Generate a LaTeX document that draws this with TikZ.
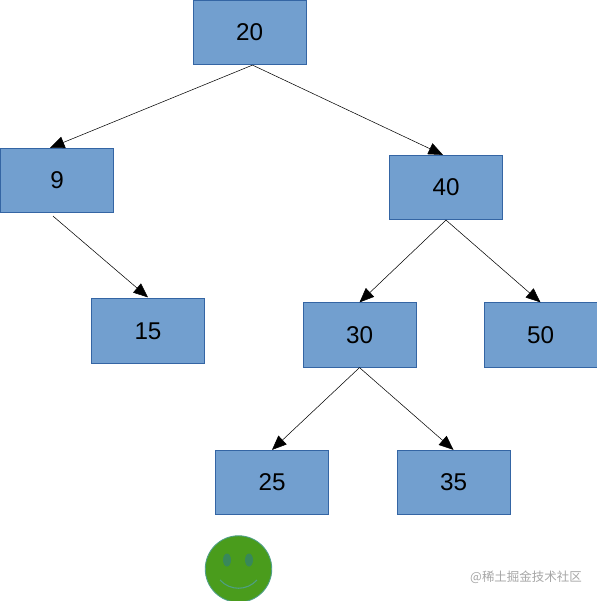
\documentclass[tikz,border=0pt]{standalone}
\usepackage{fontspec}
\setmainfont{Liberation Sans}
\newfontfamily\cjkfont{Noto Sans CJK SC}
\usetikzlibrary{arrows.meta}
\definecolor{boxfill}{HTML}{729FCF}
\definecolor{boxline}{HTML}{3465A4}
\definecolor{smileyfill}{HTML}{4A9C1C}
\definecolor{smileyline}{HTML}{4F9F86}
\definecolor{smileyeye}{HTML}{38885A}
\tikzset{
    keybox/.style={draw=boxline, fill=boxfill, line width=0.4pt, minimum width=2.26cm, minimum height=1.29cm, inner sep=0pt, font=\fontsize{13.8}{16}\selectfont, text=black},
    link/.style={->, line width=0.3pt}
}

\begin{document}
\begin{tikzpicture}[x=0.02cm, y=-0.02cm, >={Triangle[length=0.29cm, width=0.24cm]}]
    \useasboundingbox (0,0) rectangle (597,601);

    % Keys
    \node[keybox] (n20) at (249.5,32.5) {20};
    \node[keybox] (n9) at (57,180.5) {9};
    \node[keybox] (n40) at (446,187.5) {40};
    \node[keybox] (n15) at (148,331) {15};
    \node[keybox] (n30) at (359.5,335) {30};
    \node[keybox] (n50) at (540.5,335) {50};
    \node[keybox] (n25) at (272,482.5) {25};
    \node[keybox] (n35) at (453.5,482.5) {35};

    % Links
    \draw[link] ([xshift=0.06cm]n20.south) -- ([xshift=-0.14cm]n9.north);
    \draw[link] ([xshift=0.06cm]n20.south) -- ([xshift=-0.06cm]n40.north);
    \draw[link] ([xshift=-0.08cm, yshift=-0.06cm]n9.south) -- ([yshift=0.02cm]n15.north);
    \draw[link] (n40.south) -- (n30.north);
    \draw[link] (n40.south) -- (n50.north);
    \draw[link] (n30.south) -- (n25.north);
    \draw[link] (n30.south) -- (n35.north);

    % Smiley
    \node[circle, draw=smileyline, fill=smileyfill, line width=0.5pt, minimum size=1.33cm, inner sep=0pt] (smiley) at (238.5,569) {};
    \fill[smileyeye] (227,560) ellipse (4 and 6.5);
    \fill[smileyeye] (249,560) ellipse (4 and 6.5);
    \draw[smileyline, line width=0.6pt] (220,580) .. controls (230,591) and (247,591) .. (257,580);

    % Watermark
    \node[text=black!35, font=\fontsize{7.1}{9}\cjkfont, inner sep=0pt] (mark) at (526,577) {@稀土掘金技术社区};
\end{tikzpicture}
\end{document}
